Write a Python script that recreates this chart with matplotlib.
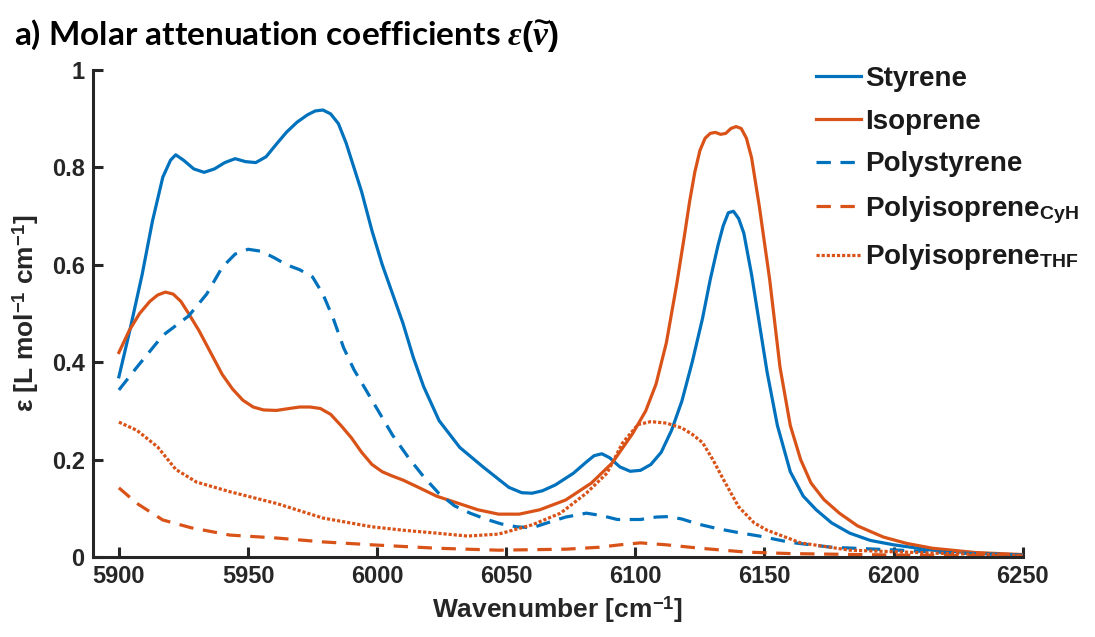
import numpy as np
import matplotlib.pyplot as plt

plt.rcParams['font.family'] = ['Liberation Sans', 'DejaVu Sans']
plt.rcParams['font.weight'] = 'bold'
plt.rcParams['mathtext.fontset'] = 'custom'
plt.rcParams['mathtext.rm'] = 'Liberation Sans:bold'
plt.rcParams['mathtext.bf'] = 'Liberation Sans:bold'
plt.rcParams['mathtext.it'] = 'Liberation Serif:italic:bold'

BLUE = '#0072BD'
ORANGE = '#D95319'
DARK = '#262626'

# values
styrene_x = [5900, 5904, 5909, 5913, 5917, 5920, 5922, 5925, 5929, 5933, 5937, 5941, 5945, 5949,
             5953, 5957, 5961, 5965, 5969, 5973, 5976, 5979, 5982, 5985, 5988, 5991, 5994, 5998,
             6002, 6006, 6010, 6014, 6018, 6024, 6032, 6041, 6051, 6056, 6060, 6064, 6069, 6076,
             6081, 6084, 6087, 6090, 6094, 6098, 6102, 6106, 6110, 6114, 6118, 6122, 6126, 6129,
             6132, 6134, 6136, 6138, 6140, 6142, 6145, 6148, 6151, 6155, 6160, 6165, 6170, 6176,
             6183, 6191, 6200, 6215, 6232, 6250]
styrene_y = [0.37, 0.46, 0.58, 0.69, 0.78, 0.815, 0.826, 0.815, 0.797, 0.79, 0.797, 0.81, 0.818, 0.812,
             0.81, 0.822, 0.848, 0.873, 0.893, 0.908, 0.916, 0.918, 0.91, 0.89, 0.85, 0.80, 0.75, 0.67,
             0.60, 0.54, 0.48, 0.41, 0.35, 0.28, 0.225, 0.185, 0.143, 0.132, 0.131, 0.136, 0.148, 0.172,
             0.195, 0.208, 0.212, 0.204, 0.185, 0.176, 0.178, 0.19, 0.215, 0.26, 0.32, 0.40, 0.49, 0.57,
             0.64, 0.68, 0.707, 0.71, 0.695, 0.665, 0.58, 0.48, 0.38, 0.27, 0.175, 0.125, 0.097, 0.07,
             0.049, 0.034, 0.025, 0.014, 0.008, 0.004]

isoprene_x = [5900, 5904, 5908, 5912, 5915, 5918, 5921, 5924, 5927, 5931, 5936, 5940, 5944, 5948,
              5952, 5956, 5961, 5966, 5970, 5974, 5978, 5982, 5986, 5990, 5994, 5998, 6002, 6006,
              6010, 6016, 6023, 6031, 6039, 6047, 6055, 6063, 6073, 6083, 6091, 6099, 6104, 6108,
              6112, 6116, 6119, 6121, 6123, 6125, 6127, 6129, 6131, 6133, 6135, 6137, 6139, 6141,
              6143, 6145, 6148, 6152, 6156, 6160, 6164, 6168, 6173, 6179, 6186, 6196, 6205, 6215,
              6232, 6250]
isoprene_y = [0.42, 0.465, 0.50, 0.525, 0.538, 0.544, 0.54, 0.525, 0.50, 0.465, 0.415, 0.375, 0.345, 0.322,
              0.308, 0.302, 0.301, 0.305, 0.308, 0.308, 0.305, 0.293, 0.27, 0.245, 0.215, 0.19, 0.175, 0.166,
              0.158, 0.143, 0.125, 0.111, 0.097, 0.088, 0.088, 0.097, 0.117, 0.152, 0.193, 0.254, 0.30, 0.355,
              0.44, 0.56, 0.66, 0.73, 0.79, 0.835, 0.86, 0.87, 0.872, 0.868, 0.87, 0.88, 0.884, 0.88,
              0.86, 0.82, 0.72, 0.57, 0.39, 0.27, 0.2, 0.152, 0.118, 0.09, 0.064, 0.041, 0.028, 0.018,
              0.009, 0.005]

polystyrene_x = [5900, 5907, 5917, 5927, 5934, 5940, 5945, 5950, 5955, 5960, 5965, 5970, 5975, 5979,
                 5983, 5987, 5991, 5996, 6001, 6006, 6012, 6018, 6024, 6030, 6036, 6042, 6048, 6054,
                 6060, 6067, 6073, 6081, 6087, 6093, 6102, 6108, 6113, 6118, 6124, 6132, 6140, 6148,
                 6160, 6176, 6202, 6225, 6250]
polystyrene_y = [0.343, 0.39, 0.455, 0.495, 0.54, 0.595, 0.622, 0.632, 0.628, 0.615, 0.60, 0.59, 0.575, 0.54,
                 0.49, 0.43, 0.385, 0.34, 0.295, 0.25, 0.205, 0.165, 0.13, 0.105, 0.09, 0.078, 0.068, 0.062,
                 0.06, 0.072, 0.082, 0.09, 0.085, 0.077, 0.077, 0.082, 0.083, 0.078, 0.068, 0.058, 0.05, 0.043,
                 0.03, 0.02, 0.014, 0.008, 0.004]

pi_cyh_x = [5900, 5907, 5917, 5928, 5943, 5961, 5979, 5998, 6023, 6047, 6073, 6086, 6094, 6102,
            6112, 6125, 6143, 6160, 6200, 6250]
pi_cyh_y = [0.142, 0.11, 0.076, 0.06, 0.045, 0.039, 0.031, 0.025, 0.018, 0.014, 0.016, 0.02, 0.025, 0.029,
            0.025, 0.018, 0.01, 0.007, 0.004, 0.002]

pi_thf_x = [5900, 5907, 5915, 5922, 5930, 5943, 5961, 5979, 5998, 6010, 6023, 6035, 6047, 6060,
            6071, 6081, 6089, 6095, 6101, 6106, 6112, 6118, 6122, 6126, 6130, 6134, 6140, 6146,
            6151, 6164, 6183, 6215, 6250]
pi_thf_y = [0.277, 0.26, 0.226, 0.18, 0.154, 0.134, 0.11, 0.08, 0.062, 0.055, 0.049, 0.043, 0.047, 0.066,
            0.09, 0.131, 0.172, 0.234, 0.272, 0.278, 0.275, 0.265, 0.252, 0.235, 0.20, 0.16, 0.103, 0.07,
            0.055, 0.029, 0.014, 0.008, 0.003]

x_ticks = [5900, 5950, 6000, 6050, 6100, 6150, 6200, 6250]
y_ticks = [0, 0.2, 0.4, 0.6, 0.8, 1]

fig = plt.figure(figsize=(10.95, 6.37), dpi=100)
ax = fig.add_axes([0.085, 0.1256, 0.849, 0.7644])

lw = 2.3
ax.plot(styrene_x, styrene_y, color=BLUE, lw=lw, label='Styrene')
ax.plot(isoprene_x, isoprene_y, color=ORANGE, lw=lw, label='Isoprene')
ax.plot(polystyrene_x, polystyrene_y, color=BLUE, lw=lw, dashes=(4.5, 3), label='Polystyrene')
ax.plot(pi_cyh_x, pi_cyh_y, color=ORANGE, lw=lw, dashes=(4.5, 3), label='Polyisoprene$_{\\mathbf{CyH}}$')
ax.plot(pi_thf_x, pi_thf_y, color=ORANGE, lw=lw, dashes=(1.0, 0.6), label='Polyisoprene$_{\\mathbf{THF}}$')

ax.set_xlim(5890, 6250)
ax.set_ylim(0, 1)
ax.set_xticks(x_ticks)
ax.set_yticks(y_ticks)
ax.set_yticklabels(['%g' % t for t in y_ticks])

for s in ['top', 'right']:
    ax.spines[s].set_visible(False)
for s in ['left', 'bottom']:
    ax.spines[s].set_linewidth(2.2)
    ax.spines[s].set_color(DARK)
ax.tick_params(direction='in', length=7, width=2.2, color=DARK, labelcolor=DARK,
               labelsize=17, pad=6)
for lab in ax.get_xticklabels() + ax.get_yticklabels():
    lab.set_fontweight('bold')

ax.set_xlabel('Wavenumber [cm$^{\\mathbf{-1}}$]', fontsize=19, fontweight='bold', color=DARK, labelpad=4)
ax.set_ylabel('ε [L mol$^{\\mathbf{-1}}$ cm$^{\\mathbf{-1}}$]', fontsize=19, fontweight='bold', color=DARK, labelpad=8)

leg = ax.legend(loc='upper left', bbox_to_anchor=(805 / 1095, 1 - 55 / 637),
                bbox_transform=fig.transFigure, frameon=False, fontsize=20,
                handlelength=1.6, handletextpad=0.15, labelspacing=0.6, borderaxespad=0)
for t in leg.get_texts():
    t.set_color('#1a1a1a')

fig.text(14 / 1095, 1 - 35 / 637, 'a) Molar attenuation coefficients $\\varepsilon(\\widetilde{\\nu})$',
         fontsize=24, fontweight='bold', family=['Lato', 'DejaVu Sans'], va='center', ha='left', color='black')

fig.savefig('out.png', dpi=100)
